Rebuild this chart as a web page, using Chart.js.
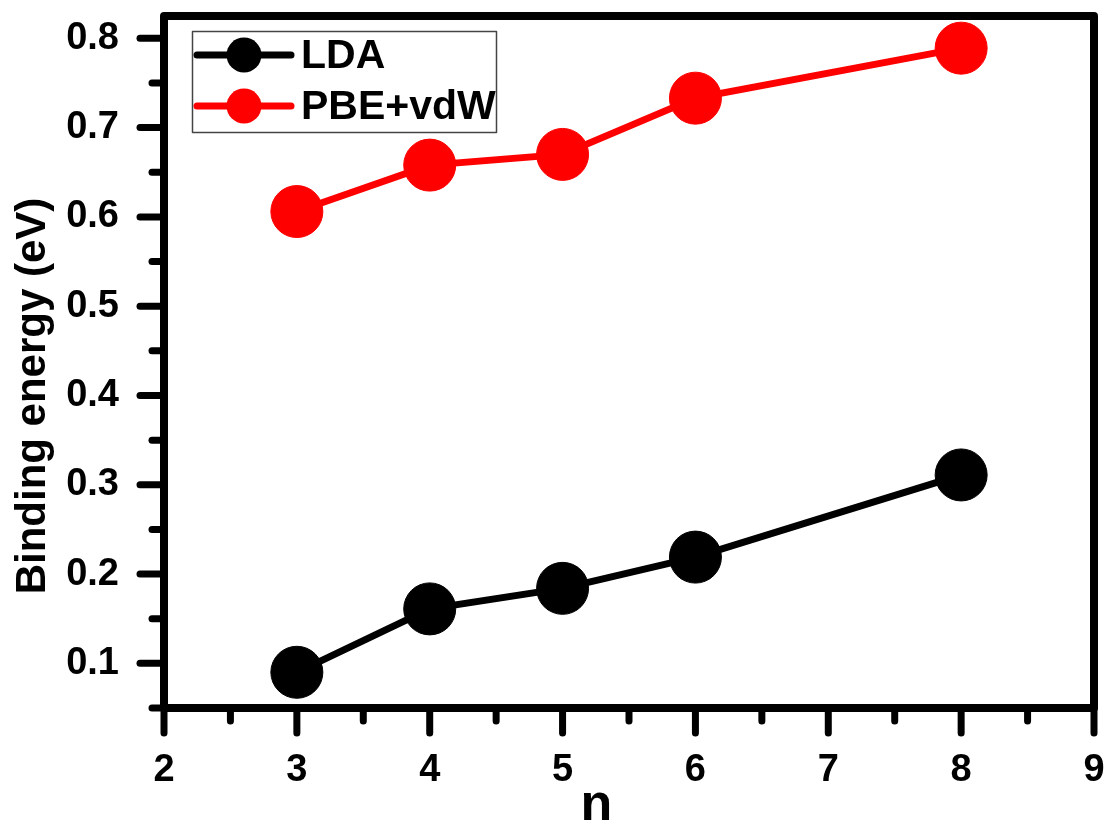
<!DOCTYPE html>
<html>
<head>
<meta charset="utf-8">
<script src="https://cdn.jsdelivr.net/npm/chart.js@4"></script>
<style>
html,body{margin:0;padding:0;background:#fff;}
canvas{display:block;}
</style>
</head>
<body>
<canvas id="c" width="1105" height="825"></canvas>
<script>
// ---- data ----
const nValues = [3, 4, 5, 6, 8];
const ldaValues = [0.090, 0.161, 0.184, 0.219, 0.311];
const pbeValues = [0.606, 0.658, 0.670, 0.733, 0.789];
const seriesLabels = ['LDA', 'PBE+vdW'];
const seriesColors = ['#000000', '#ff0000'];
const xTickValues = [2, 3, 4, 5, 6, 7, 8, 9];
const xMinorValues = [2.5, 3.5, 4.5, 5.5, 6.5, 7.5, 8.5];
const yTickValues = [0.1, 0.2, 0.3, 0.4, 0.5, 0.6, 0.7, 0.8];
const yMinorValues = [0.05, 0.15, 0.25, 0.35, 0.45, 0.55, 0.65, 0.75];
const xTitle = 'n';
const yTitle = 'Binding energy (eV)';

const FONT = '"Liberation Sans", Arial, sans-serif';

const framePlugin = {
  id: 'frame',
  afterDraw(chart) {
    const ctx = chart.ctx;
    const a = chart.chartArea;
    const xs = chart.scales.x, ys = chart.scales.y;
    ctx.save();
    ctx.strokeStyle = '#000';
    ctx.lineCap = 'round';
    ctx.lineWidth = 7;
    // y ticks
    yTickValues.forEach(v => {
      const p = ys.getPixelForValue(v);
      ctx.beginPath(); ctx.moveTo(a.left, p); ctx.lineTo(a.left - 24, p); ctx.stroke();
    });
    yMinorValues.forEach(v => {
      const p = ys.getPixelForValue(v);
      ctx.beginPath(); ctx.moveTo(a.left, p); ctx.lineTo(a.left - 12, p); ctx.stroke();
    });
    xTickValues.forEach(v => {
      const p = xs.getPixelForValue(v);
      ctx.beginPath(); ctx.moveTo(p, a.bottom); ctx.lineTo(p, a.bottom + 25); ctx.stroke();
    });
    xMinorValues.forEach(v => {
      const p = xs.getPixelForValue(v);
      ctx.beginPath(); ctx.moveTo(p, a.bottom); ctx.lineTo(p, a.bottom + 13); ctx.stroke();
    });
    // frame
    ctx.lineWidth = 8;
    ctx.lineJoin = 'round';
    ctx.strokeRect(a.left, a.top, a.right - a.left, a.bottom - a.top);

    // axis titles
    ctx.fillStyle = '#000';
    ctx.font = 'bold 42px ' + FONT;
    ctx.textAlign = 'center';
    ctx.textBaseline = 'alphabetic';
    ctx.save();
    ctx.translate(45, 396);
    ctx.rotate(-Math.PI / 2);
    ctx.fillText(yTitle, 0, 0);
    ctx.restore();
    ctx.font = 'bold 52px ' + FONT;
    ctx.fillText(xTitle, 596.5, 820);

    // legend
    ctx.lineWidth = 1.5;
    ctx.strokeStyle = '#444';
    ctx.strokeRect(192.5, 31.5, 304, 101);
    const rows = [55, 106];
    chart.data.datasets.forEach((ds, i) => {
      const cy = rows[i];
      ctx.strokeStyle = ds.borderColor;
      ctx.fillStyle = ds.backgroundColor;
      ctx.lineWidth = 7;
      ctx.lineCap = 'round';
      ctx.beginPath(); ctx.moveTo(197, cy); ctx.lineTo(291, cy); ctx.stroke();
      ctx.beginPath(); ctx.arc(244, cy, 17.5, 0, Math.PI * 2); ctx.fill();
      ctx.fillStyle = '#000';
      ctx.font = 'bold 41px ' + FONT;
      ctx.textAlign = 'left';
      ctx.textBaseline = 'middle';
      ctx.fillText(ds.label, 301, cy + 2);
    });
    ctx.restore();
  }
};

const datasets = [ldaValues, pbeValues].map((vals, i) => ({
  label: seriesLabels[i],
  data: nValues.map((n, k) => ({x: n, y: vals[k]})),
  borderColor: seriesColors[i],
  backgroundColor: seriesColors[i],
  borderWidth: 7,
  pointRadius: 26,
  pointBorderWidth: 1,
  pointHoverRadius: 26,
  tension: 0,
  clip: false
}));

function zeroPad(s) { s.paddingTop = 0; s.paddingBottom = 0; s.paddingLeft = 0; s.paddingRight = 0; }

new Chart(document.getElementById('c'), {
  type: 'line',
  data: { datasets },
  options: {
    responsive: false,
    animation: false,
    events: [],
    layout: { autoPadding: false, padding: { top: 16, right: 11, left: 0, bottom: 0 } },
    plugins: { legend: { display: false }, tooltip: { enabled: false } },
    scales: {
      x: {
        type: 'linear',
        min: 2, max: 9,
        grid: { display: false, drawTicks: false },
        border: { display: false },
        afterBuildTicks: s => { s.ticks = xTickValues.map(v => ({value: v})); },
        afterFit: s => { s.height = 117; zeroPad(s); },
        ticks: {
          padding: 40,
          color: '#000',
          font: { family: FONT, size: 38, weight: 'bold' },
          callback: v => String(v)
        }
      },
      y: {
        type: 'linear',
        min: 0.05, max: 0.825,
        grid: { display: false, drawTicks: false },
        border: { display: false },
        afterBuildTicks: s => { s.ticks = yTickValues.map(v => ({value: v})); },
        afterFit: s => { s.width = 164; zeroPad(s); },
        ticks: {
          padding: 45,
          color: '#000',
          font: { family: FONT, size: 38, weight: 'bold' },
          callback: v => Number(v).toFixed(1)
        }
      }
    }
  },
  plugins: [framePlugin]
});
</script>
</body>
</html>
